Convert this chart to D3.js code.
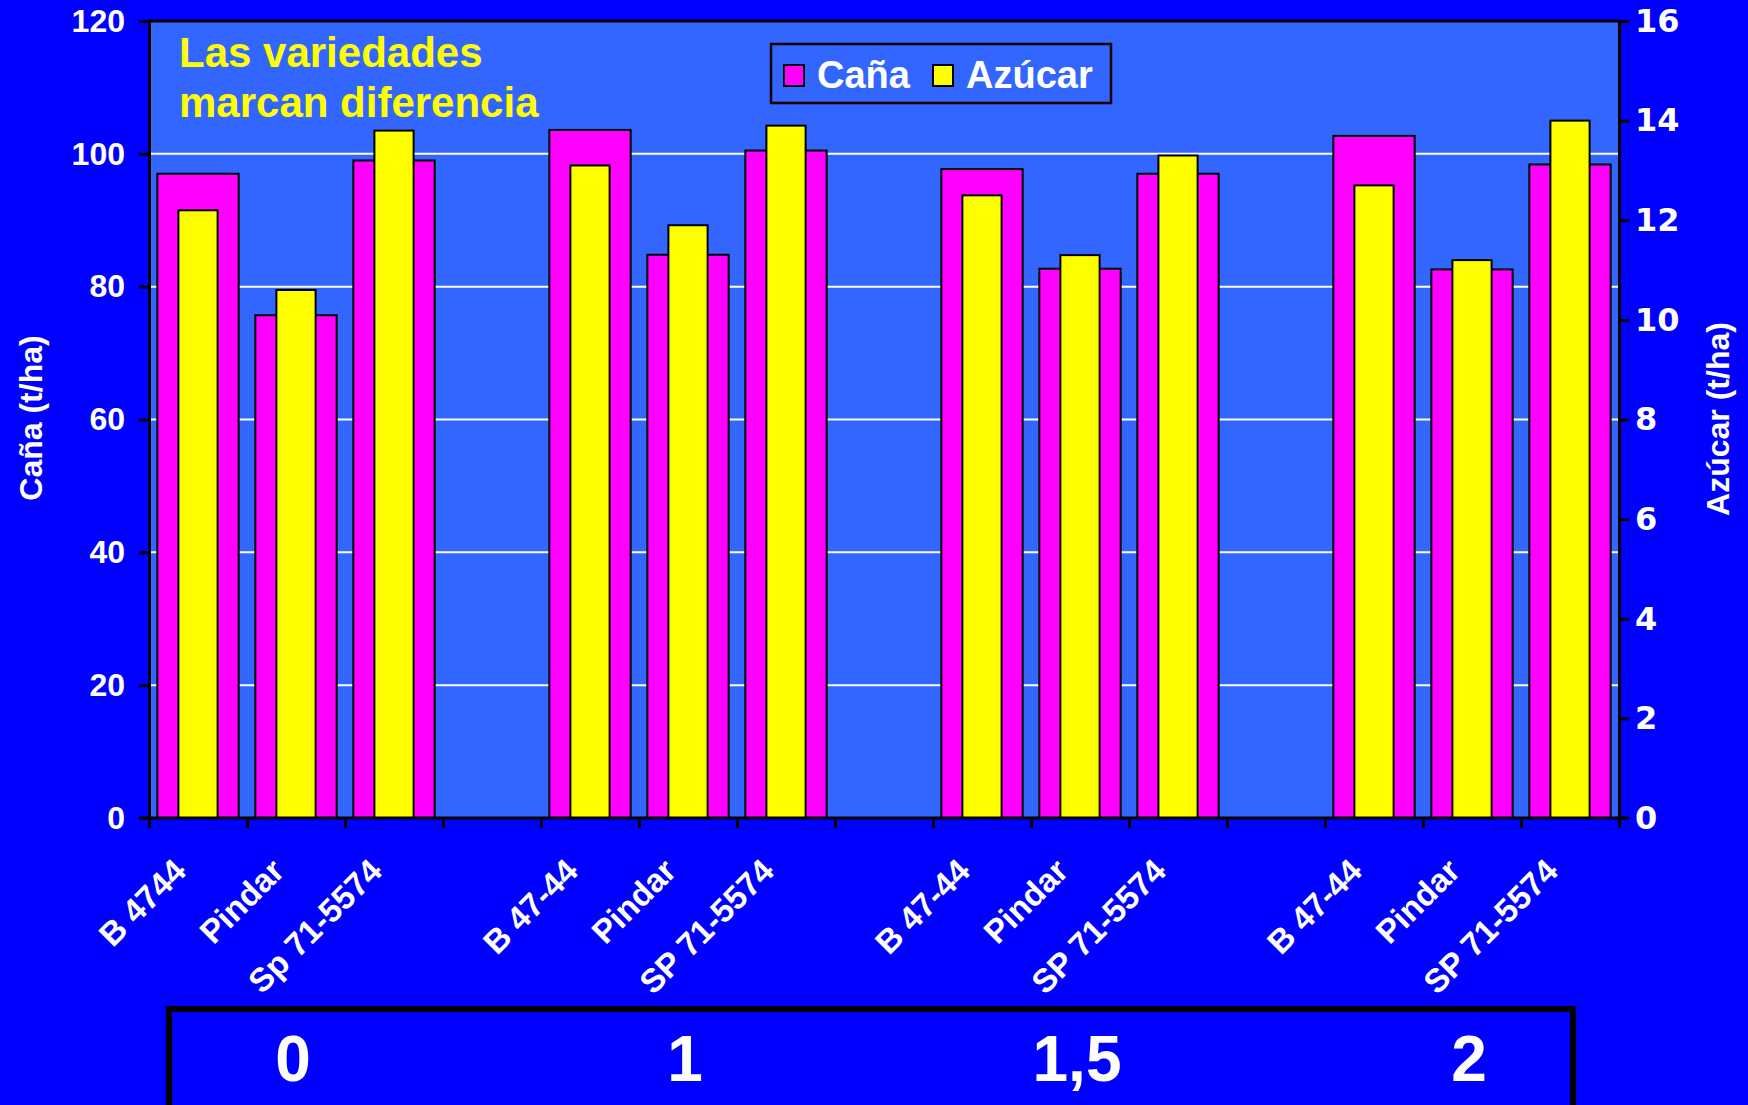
<!DOCTYPE html>
<html>
<head>
<meta charset="utf-8">
<script src="https://cdn.jsdelivr.net/npm/d3@7"></script>
<style>
  html, body { margin: 0; padding: 0; background: #0000ff; }
  svg { display: block; }
  text { font-family: "Liberation Sans", Arial, sans-serif; font-weight: bold; fill: #fff; }
</style>
</head>
<body>
<svg width="1748" height="1105"></svg>
<script>
// varieties along the x axis ("" = empty slot between dose groups)
var categories = ["B 4744", "Pindar", "Sp 71-5574", "",
                  "B 47-44", "Pindar", "SP 71-5574", "",
                  "B 47-44", "Pindar", "SP 71-5574", "",
                  "B 47-44", "Pindar", "SP 71-5574"];
// Caña (t/ha), left axis
var cana = [97.0, 75.7, 99.0, null, 103.6, 84.8, 100.5, null, 97.7, 82.7, 97.0, null, 102.7, 82.6, 98.4];
// Azúcar (t/ha), right axis
var azucar = [12.2, 10.6, 13.8, null, 13.1, 11.9, 13.9, null, 12.5, 11.3, 13.3, null, 12.7, 11.2, 14.0];
// dose of each group and the slot index of its middle bar
var doses = ["0", "1", "1,5", "2"];
var doseCenter = [1, 5, 9, 13];
var leftTicks = [0, 20, 40, 60, 80, 100, 120];
var rightTicks = [0, 2, 4, 6, 8, 10, 12, 14, 16];

var svg = d3.select("svg"),
    margin = {top: 21, right: 129, bottom: 287, left: 149},
    width = svg.attr("width") - margin.left - margin.right,
    height = svg.attr("height") - margin.top - margin.bottom,
    g = svg.append("g").attr("transform", "translate(" + margin.left + "," + margin.top + ")");

var x = d3.scaleBand().domain(d3.range(categories.length)).range([0, width]),
    xEdge = d3.scaleLinear().domain([0, categories.length]).range([0, width]),
    y = d3.scaleLinear().domain([0, 120]).range([height, 0]),
    y2 = d3.scaleLinear().domain([0, 16]).range([height, 0]);

var bw = x.bandwidth();

// plot background
g.append("rect")
    .attr("width", width)
    .attr("height", height)
    .attr("fill", "#3366ff");

// gridlines
g.selectAll(".grid")
    .data(leftTicks.filter(function(d) { return d > 0 && d < 120; }))
    .enter().append("line")
    .attr("x1", 0).attr("x2", width)
    .attr("y1", function(d) { return y(d); })
    .attr("y2", function(d) { return y(d); })
    .attr("stroke", "#fff")
    .attr("stroke-width", 2);

var rows = categories.map(function(c, i) { return {i: i, cana: cana[i], azucar: azucar[i]}; })
    .filter(function(d) { return d.cana != null; });

g.selectAll(".cana")
    .data(rows)
    .enter().append("rect")
    .attr("class", "cana")
    .attr("x", function(d) { return x(d.i) + bw * 0.085; })
    .attr("width", bw * 0.83)
    .attr("y", function(d) { return y(d.cana); })
    .attr("height", function(d) { return height - y(d.cana); })
    .attr("fill", "#ff00ff")
    .attr("stroke", "#000")
    .attr("stroke-width", 2);

g.selectAll(".azucar")
    .data(rows)
    .enter().append("rect")
    .attr("class", "azucar")
    .attr("x", function(d) { return x(d.i) + bw * 0.3; })
    .attr("width", bw * 0.4)
    .attr("y", function(d) { return y2(d.azucar); })
    .attr("height", function(d) { return height - y2(d.azucar); })
    .attr("fill", "#ffff00")
    .attr("stroke", "#000")
    .attr("stroke-width", 2);

// top border
g.append("line")
    .attr("x1", 0).attr("x2", width)
    .attr("y1", 0).attr("y2", 0)
    .attr("stroke", "#000").attr("stroke-width", 3);

// axes
var axL = g.append("g")
    .call(d3.axisLeft(y).tickValues(leftTicks).tickSize(10).tickPadding(14));
var axR = g.append("g")
    .attr("transform", "translate(" + width + ",0)")
    .call(d3.axisRight(y2).tickValues(rightTicks).tickSize(10).tickPadding(6));
var axB = g.append("g")
    .attr("transform", "translate(0," + height + ")")
    .call(d3.axisBottom(xEdge).tickValues(d3.range(categories.length + 1)).tickSize(10).tickFormat(""));

[axL, axR, axB].forEach(function(a) {
  a.select(".domain").attr("stroke", "#000").attr("stroke-width", 3);
  a.selectAll(".tick line").attr("stroke", "#000").attr("stroke-width", 3);
});
axB.select(".domain").attr("d", "M-10,0H" + (width + 10));
axL.selectAll("text").style("font-size", "32px").attr("fill", "#fff");
axR.selectAll("text")
    .style("font-size", "32px")
    .style("font-family", "'DejaVu Sans', Verdana, sans-serif")
    .attr("fill", "#fff");

// category labels
g.selectAll(".cat")
    .data(categories.map(function(c, i) { return {c: c, i: i}; }))
    .enter().append("text")
    .attr("class", "cat")
    .attr("text-anchor", "end")
    .attr("transform", function(d) {
      return "translate(" + (x(d.i) + bw / 2 - 10) + "," + (height + 55) + ") rotate(-45)";
    })
    .style("font-size", "33px")
    .text(function(d) { return d.c; });

// axis titles
svg.append("text")
    .attr("transform", "translate(42,418) rotate(-90)")
    .attr("text-anchor", "middle")
    .style("font-size", "32px")
    .text("Caña (t/ha)");
svg.append("text")
    .attr("transform", "translate(1729,419) rotate(-90)")
    .attr("text-anchor", "middle")
    .style("font-size", "32px")
    .text("Azúcar (t/ha)");

// title
var title = g.append("text")
    .attr("x", 30)
    .attr("y", 46)
    .style("font-size", "42px")
    .style("fill", "#ffff00");
title.append("tspan").attr("x", 30).text("Las variedades");
title.append("tspan").attr("x", 30).attr("dy", 50).text("marcan diferencia");

// legend
var legend = svg.append("g").attr("transform", "translate(771,44)");
legend.append("rect")
    .attr("width", 340).attr("height", 59)
    .attr("fill", "#3366ff")
    .attr("stroke", "#000").attr("stroke-width", 2.5);
var items = [{name: "Caña", color: "#ff00ff", x: 13}, {name: "Azúcar", color: "#ffff00", x: 162}];
items.forEach(function(it) {
  legend.append("rect")
      .attr("x", it.x).attr("y", 21)
      .attr("width", 20).attr("height", 21)
      .attr("fill", it.color)
      .attr("stroke", "#000").attr("stroke-width", 2);
  legend.append("text")
      .attr("x", it.x + 33).attr("y", 44)
      .style("font-size", "38px")
      .text(it.name);
});

// dose box under the chart
svg.append("rect")
    .attr("x", 169).attr("y", 1009)
    .attr("width", 1404).attr("height", 110)
    .attr("fill", "#0000ff")
    .attr("stroke", "#000").attr("stroke-width", 6);
svg.selectAll(".dose")
    .data(doses)
    .enter().append("text")
    .attr("class", "dose")
    .attr("text-anchor", "middle")
    .attr("x", function(d, i) { return margin.left + x(doseCenter[i]) + bw / 2 - 3; })
    .attr("y", 1081)
    .style("font-size", "64px")
    .text(function(d) { return d; });
</script>
</body>
</html>
